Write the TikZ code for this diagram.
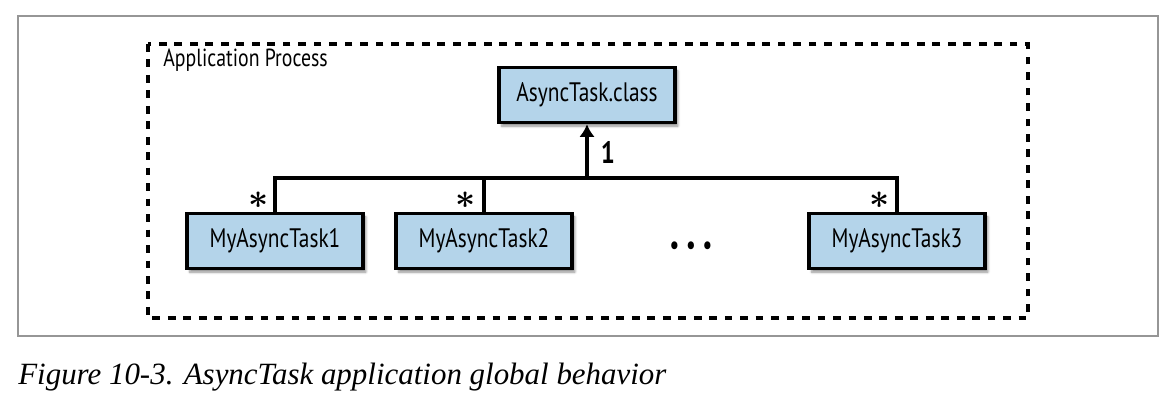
\documentclass[tikz,border=0pt]{standalone}
\usepackage{fontspec}
\newfontfamily\diafont{PT Sans}[FakeStretch=0.8]
\newfontfamily\capfont{Liberation Serif}
\usetikzlibrary{shadows.blur, arrows.meta}
\definecolor{myboxblue}{RGB}{180,212,234}
\definecolor{myframe}{RGB}{150,150,150}

\begin{document}
\begin{tikzpicture}[x=0.025cm,y=-0.025cm,
  classbox/.style={draw=black, line width=2.3pt, fill=myboxblue,
    minimum width=4.4cm, minimum height=1.38cm, inner sep=0pt,
    font=\diafont\fontsize{19}{21}\selectfont,
    blur shadow={shadow xshift=2pt, shadow yshift=-2.5pt, shadow blur steps=6, shadow opacity=45}},
  link/.style={line width=2.2pt},
  mult/.style={inner sep=0pt, font=\fontsize{26}{26}\selectfont\boldmath}]
\useasboundingbox (0,0) rectangle (1176,408);

%outer frame
\draw[myframe, line width=0.8pt] (18,16) rectangle (1158,336);
%process boundary
\draw[line width=2.3pt, dash pattern=on 5.5pt off 5.5pt] (148,44) rectangle (1028,318);
\node[anchor=west, font=\diafont\fontsize{17.6}{20}\selectfont, inner sep=0pt] (proc) at (163,60) {Application Process};

%classes
\node[classbox] (cls) at (587,95) {AsyncTask.class};
\node[classbox] (t1) at (275,241) {MyAsyncTask1};
\node[classbox] (t2) at (484,241) {MyAsyncTask2};
\node[classbox] (t3) at (897,241) {MyAsyncTask3};
\node[font=\diafont\fontsize{20}{20}\selectfont, inner sep=0pt] (dots) at (691,248) {\textbullet\hspace{4.5pt}\textbullet\hspace{4.5pt}\textbullet};

%inheritance
\coordinate (join) at (587,178);
\draw[link] (t1.north) |- (join) -| (t3.north);
\draw[link] (t2.north) -- (t2.north |- join);
\draw[link, -{Latex[length=9pt, width=11pt]}] (join) -- (cls.south);

%multiplicities
\node[inner sep=0pt, font=\diafont\bfseries\fontsize{22}{22}\selectfont] (one) at (608,152) {1};
\node[mult] (m1) at (259,200) {$\ast$};
\node[mult] (m2) at (466,200) {$\ast$};
\node[mult] (m3) at (880,200) {$\ast$};

%caption
\node[anchor=base west, font=\capfont\itshape\fontsize{22}{24}\selectfont, inner sep=0pt] (cap) at (18,384) {Figure 10-3. AsyncTask application global behavior};
\end{tikzpicture}
\end{document}
